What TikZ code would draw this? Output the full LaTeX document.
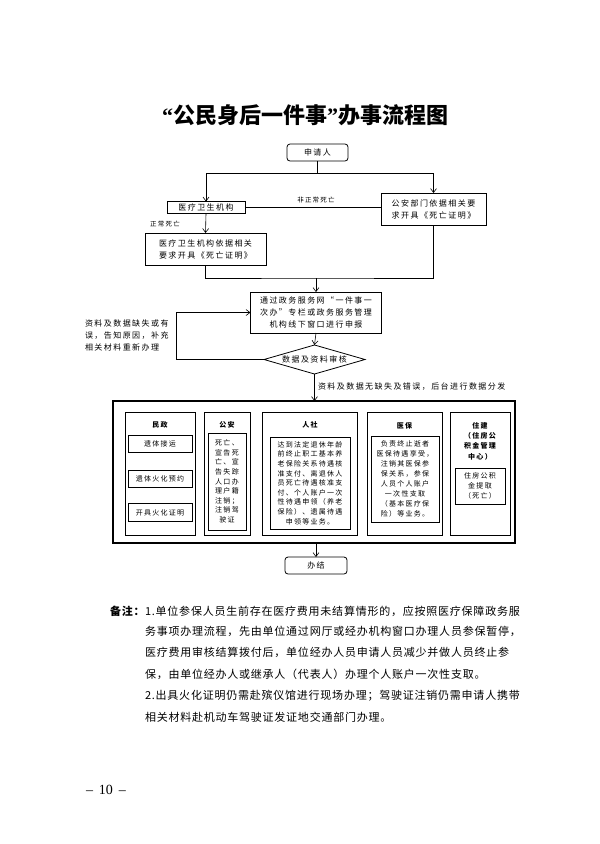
\documentclass[tikz,border=0pt]{standalone}
\usepackage{fontspec}
\setmainfont{Noto Sans CJK SC}
\newfontfamily\cjksp[LetterSpace=18]{Noto Sans CJK SC}
\newfontfamily\cjknote[LetterSpace=7]{Noto Sans CJK SC}
\newfontfamily\cjktitle{Noto Sans CJK SC}
\newfontfamily\pgnum{Liberation Serif}
\usetikzlibrary{shapes.geometric,arrows.meta}
\newcommand\fa{\cjksp\fontsize{8}{12}\selectfont}
\newcommand\fsm{\cjksp\fontsize{6.5}{8}\selectfont}
\newcommand\fin{\cjksp\fontsize{7}{9.6}\selectfont}
\newcommand\fnote{\cjknote\fontsize{11}{14}\selectfont}
\begin{document}
\begin{tikzpicture}[x=1pt,y=-1pt,
  every node/.style={inner sep=0pt,outer sep=0pt},
  bx/.style={draw,line width=0.8pt,align=center,font=\fa},
  col/.style={draw,line width=0.8pt},
  sub/.style={draw,line width=0.7pt,align=center,font=\fin},
  ttl/.style={font=\fin\bfseries,align=center},
  ln/.style={line width=0.6pt},
  arr/.style={line width=0.6pt,-{Straight Barb[length=4pt,width=6pt]}},
  lbl/.style={font=\fsm}]
\useasboundingbox (0,0) rectangle (600,844);

% title
\node[font=\cjktitle\fontsize{22}{26}\selectfont\bfseries] (title) at (305,115) {{\pgnum\bfseries “}公民身后一件事{\pgnum\bfseries ”}办事流程图};

% top part
\node[bx,rounded corners=3pt,minimum width=61pt,minimum height=17pt] (shen) at (317.5,152.5) {申请人};
\node[bx,minimum width=78pt,minimum height=12pt] (yl) at (206,207.5) {医疗卫生机构};
\node[bx,minimum width=105pt,minimum height=32pt,align=left] (ga) at (433.5,209) {公安部门依据相关要\\求开具《死亡证明》};
\node[bx,minimum width=121pt,minimum height=32pt,align=left] (ylzm) at (205.5,249) {医疗卫生机构依据相关\\要求开具《死亡证明》};
\node[bx,minimum width=131pt,minimum height=41pt] (tg) at (316,312.5) {通过政务服务网“一件事一\\次办”专栏或政务服务管理\\机构线下窗口进行申报};
\node[draw,diamond,line width=0.8pt,aspect=3.5,minimum width=101pt,minimum height=29pt,font=\fa] (dia) at (314.5,359.5) {数据及资料审核};

\draw[ln] (shen.south) -- (shen.south |- 0,173) coordinate (j1);
\draw[arr] (j1) -| (yl.north);
\draw[arr] (j1) -| (ga.north);
\draw[ln] (yl.east) -- (ga.west |- yl.east);
\node[lbl] (fzc) at (316,200) {非正常死亡};
\draw[arr] (yl.south) -- (ylzm.north);
\node[lbl] (zc) at (165,224) {正常死亡};
\coordinate (j2) at (tg.north |- 0,278);
\draw[ln] (ylzm.south) |- (j2) -| (ga.south);
\draw[arr] (j2) -- (tg.north);
\draw[arr] (tg.south) -- (dia.north);
\draw[arr] (dia.west) -- (176,359.5) |- (tg.west);
\node[font=\fa,align=left,anchor=west] (bq) at (85,335) {资料及数据缺失或有\\误，告知原因，补充\\相关材料重新办理};

% big box
\node[draw,line width=2.4pt,minimum width=402pt,minimum height=142pt] (big) at (314,472) {};
\draw[arr] (dia.south) -- (dia.south |- big.north);
\node[font=\fa,anchor=west] (ok) at (318,387) {资料及数据无缺失及错误，后台进行数据分发};

% columns
\node[col,minimum width=70pt,minimum height=123pt] (mz) at (160,473.5) {};
\node[ttl] (mzt) at (160,425) {民政};
\node[sub,minimum width=64pt,minimum height=17pt] (mz1) at (160,443.5) {遗体接运};
\node[sub,minimum width=64pt,minimum height=17pt] (mz2) at (160,478.5) {遗体火化预约};
\node[sub,minimum width=64pt,minimum height=18pt] (mz3) at (160,512.5) {开具火化证明};

\node[col,minimum width=46pt,minimum height=123pt] (gac) at (227,473.5) {};
\node[ttl] (gat) at (227,425) {公安};
\node[sub,minimum width=38pt,minimum height=97pt] (ga1) at (227,481.5) {死亡、\\宣告死\\亡、宣\\告失踪\\人口办\\理户籍\\注销；\\注销驾\\驶证};

\node[col,minimum width=95pt,minimum height=123pt] (rs) at (309.5,473.5) {};
\node[ttl] (rst) at (310,425) {人社};
\node[sub,minimum width=80pt,minimum height=92pt] (rs1) at (310,483) {达到法定退休年龄\\前终止职工基本养\\老保险关系待遇核\\准支付、离退休人\\员死亡待遇核准支\\付、个人账户一次\\性待遇申领（养老\\保险）、遗属待遇\\申领等业务。};

\node[col,minimum width=75pt,minimum height=123pt] (yb) at (404.5,473.5) {};
\node[ttl] (ybt) at (404.5,426) {医保};
\node[sub,minimum width=68pt,minimum height=86pt,font=\cjksp\fontsize{7}{10}\selectfont] (yb1) at (405,479) {负责终止逝者\\医保待遇享受，\\注销其医保参\\保关系，参保\\人员个人账户\\一次性支取\\（基本医疗保\\险）等业务。};

\node[col,minimum width=60pt,minimum height=123pt] (zj) at (480,473.5) {};
\node[ttl,font=\cjksp\fontsize{7}{10.4}\selectfont\bfseries] (zjt) at (480,441) {住建\\（住房公\\积金管理\\中心）};
\node[sub,minimum width=50pt,minimum height=36pt,font=\cjksp\fontsize{7}{10}\selectfont] (zj1) at (480,486) {住房公积\\金提取\\（死亡）};

\node[bx,rounded corners=3pt,minimum width=62pt,minimum height=17pt] (bj) at (316,565.5) {办结};
\draw[arr] (big.south -| bj.north) -- (bj.north);

% notes
\node[font=\fnote\bfseries,anchor=west] (bz) at (110,611) {备注：};
\node[font=\fnote,anchor=west] (n1) at (145,611) {1.单位参保人员生前存在医疗费用未结算情形的，应按照医疗保障政务服};
\node[font=\fnote,anchor=west] (n2) at (145,631.5) {务事项办理流程，先由单位通过网厅或经办机构窗口办理人员参保暂停，};
\node[font=\fnote,anchor=west] (n3) at (145,652.5) {医疗费用审核结算拨付后，单位经办人员申请人员减少并做人员终止参};
\node[font=\fnote,anchor=west] (n4) at (145,674.5) {保，由单位经办人或继承人（代表人）办理个人账户一次性支取。};
\node[font=\fnote,anchor=west] (n5) at (145,696) {2.出具火化证明仍需赴殡仪馆进行现场办理；驾驶证注销仍需申请人携带};
\node[font=\fnote,anchor=west] (n6) at (145,717) {相关材料赴机动车驾驶证发证地交通部门办理。};

\node[font=\pgnum\fontsize{14}{16}\selectfont] (pg) at (106,790) {–\hspace{6pt}10\hspace{6pt}–};
\end{tikzpicture}
\end{document}
